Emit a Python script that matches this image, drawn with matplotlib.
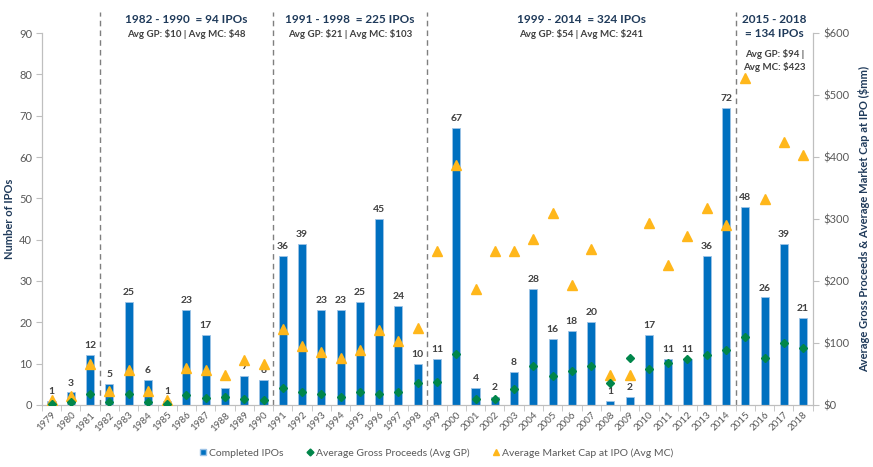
import numpy as np
import matplotlib
matplotlib.use("Agg")
import matplotlib.pyplot as plt
from matplotlib.lines import Line2D
from matplotlib.patches import Patch

plt.rcParams["font.family"] = ["Lato", "DejaVu Sans"]
plt.rcParams["text.parse_math"] = False

years = list(range(1979, 2019))
ipos = [1, 3, 12, 5, 25, 6, 1, 23, 17, 4, 7, 6,
        36, 39, 23, 23, 25, 45, 24, 10,
        11, 67, 4, 2, 8, 28, 16, 18, 20, 1, 2, 17, 11, 11, 36, 72,
        48, 26, 39, 21]
avg_gp = [2, 4, 17, 5, 17, 5, 1, 16, 11, 12, 10, 8,
          28, 21, 18, 13, 21, 18, 21, 35,
          37, 82, 10, 10, 25, 63, 46, 55, 63, 35, 75, 58, 68, 74, 81, 89,
          109, 75, 100, 92]
avg_mc = [8, 15, 66, 23, 56, 23, 8, 59, 56, 48, 72, 66,
          123, 95, 86, 75, 89, 121, 103, 124,
          249, 387, 187, 249, 249, 267, 309, 194, 252, 48, 48, 293, 226, 273, 317, 290,
          528, 333, 425, 403]

period_breaks = [2.5, 11.5, 19.5, 35.5]
period_centers = [7.0, 15.5, 27.5, 37.5]
period_titles = ["1982 - 1990  = 94 IPOs", "1991 - 1998  = 225 IPOs",
                 "1999 - 2014  = 324 IPOs", "2015 - 2018\n= 134 IPOs"]
period_notes = ["Avg GP: $10 | Avg MC: $48", "Avg GP: $21 | Avg MC: $103",
                "Avg GP: $54 | Avg MC: $241", "Avg GP: $94 |\nAvg MC: $423"]

BLUE = "#0070C0"
GREEN = "#00864A"
GOLD = "#FFB71B"
NAVY = "#1F3A5A"
GRAY = "#595959"
AXGRAY = "#BFBFBF"

fig = plt.figure(figsize=(8.73, 4.67), dpi=100)
ax = fig.add_axes([0.048, 0.133, 0.883, 0.796])
ax2 = ax.twinx()

x = np.arange(len(years))
ax.bar(x, ipos, width=0.42, color=BLUE, edgecolor="#9DC3E6", linewidth=0.6, zorder=2)
for xi, v in zip(x, ipos):
    ax.text(xi, v + 1.2, str(v), ha="center", va="bottom", fontsize=7.5,
            fontweight="bold", color="#404040")

ax2.plot(x, avg_mc, linestyle="none", marker="^", ms=7, color=GOLD, zorder=3)
ax2.plot(x, avg_gp, linestyle="none", marker="D", ms=4.5, color=GREEN, zorder=4)

ax.set_xlim(-0.5, 39.5)
ax.set_ylim(0, 90)
ax2.set_ylim(0, 600)
ax.set_yticks(range(0, 91, 10))
ax2.set_yticks(range(0, 601, 100))
ax2.set_yticklabels([f"${v}" for v in range(0, 601, 100)])

ax.set_xticks(x)
ax.set_xticklabels([str(y) for y in years], rotation=45, ha="right",
                   rotation_mode="anchor", fontsize=7, color=GRAY)
ax.set_xticks(np.arange(-0.5, 40, 1), minor=True)
ax.tick_params(axis="x", which="major", length=0, pad=4)
ax.tick_params(axis="x", which="minor", length=4, color=AXGRAY)
ax.tick_params(axis="y", labelsize=8, colors=GRAY, length=4, pad=3)
ax.tick_params(axis="y", color=AXGRAY)
ax2.tick_params(axis="y", labelsize=8, colors=GRAY, length=4)
ax2.tick_params(axis="y", color=AXGRAY)

for a in (ax, ax2):
    a.spines["top"].set_visible(False)
    for s in ("left", "right", "bottom"):
        a.spines[s].set_color(AXGRAY)

ax.set_ylabel("Number of IPOs", fontsize=8, fontweight="bold", color=NAVY, labelpad=3)
ax2.set_ylabel("Average Gross Proceeds & Average Market Cap at IPO ($mm)",
               fontsize=8, fontweight="bold", color=NAVY, labelpad=6)

for b in period_breaks:
    ax.plot([b, b], [0, 95.2], linestyle=(0, (4, 3)), color="#7F7F7F",
            linewidth=1, clip_on=False, zorder=1)

for cx, t, n in zip(period_centers, period_titles, period_notes):
    if "\n" in t:
        ax.text(cx, 94.6, t, ha="center", va="top", fontsize=8.5,
                fontweight="bold", color=NAVY, linespacing=1.3)
        ax.text(cx, 86.2, n, ha="center", va="top", fontsize=7,
                fontweight="bold", color="#404040", linespacing=1.4)
    else:
        ax.text(cx, 94.6, t, ha="center", va="top", fontsize=8.5,
                fontweight="bold", color=NAVY)
        ax.text(cx, 91.0, n, ha="center", va="top", fontsize=7,
                fontweight="bold", color="#404040")

handles = [
    Patch(facecolor=BLUE, edgecolor="#9DC3E6", label="Completed IPOs"),
    Line2D([], [], linestyle="none", marker="D", ms=3.5, color=GREEN,
           label="Average Gross Proceeds (Avg GP)"),
    Line2D([], [], linestyle="none", marker="^", ms=5, color=GOLD,
           label="Average Market Cap at IPO (Avg MC)"),
]
fig.legend(handles=handles, loc="center", bbox_to_anchor=(0.5, 0.03), ncol=3,
           frameon=False, fontsize=7.5, labelcolor=GRAY, handlelength=0.6,
           handleheight=0.6, handletextpad=0.3, columnspacing=2.2)

fig.savefig("out.png", dpi=100)
